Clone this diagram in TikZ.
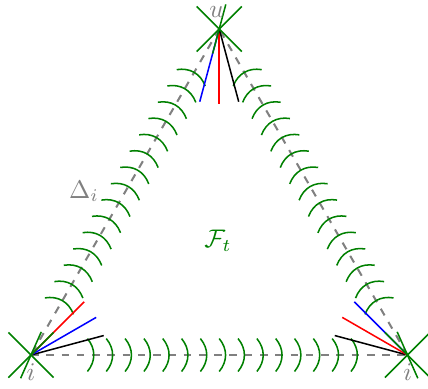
\documentclass[tikz,border=0pt]{standalone}
\usepackage{amsmath}
\usetikzlibrary{calc}
\definecolor{vert}{rgb}{0,0.5,0}
\tikzset{
  hatch/.pic={\draw[vert,semithick] (0,-0.175) .. controls (0.09,-0.065) and (0.09,0.065) .. (0,0.175);},
  cote/.style={gray,thick,dashed},
  croix/.style={vert,semithick},
  rayon/.style={semithick}
}
\begin{document}
\begin{tikzpicture}[x=1.3cm,y=1.3cm]
\useasboundingbox (-0.329,-0.351) rectangle (4.218,3.772);
% sommets du triangle
\coordinate (bl) at (0,0);
\coordinate (br) at (4,0);
\coordinate (tp) at (2,3.464);
% cotes
\draw[cote] (bl) -- (br);
\draw[cote] (br) -- (tp);
\draw[cote] (tp) -- (bl);
% hachures
\foreach \t in {0.6,0.8,...,3.41} {
  \pic at ($(bl)+(\t,0)$) {hatch};
  \pic[rotate=60] at ($(bl)+(60:\t)$) {hatch};
  \pic[rotate=120] at ($(br)+(120:\t)$) {hatch};
}
% rayons aux sommets
\draw[rayon,black] (bl) -- ++(15:0.8);
\draw[rayon,blue] (bl) -- ++(30:0.8);
\draw[rayon,red] (bl) -- ++(45:0.8);
\draw[rayon,black] (br) -- ++(165:0.8);
\draw[rayon,red] (br) -- ++(150:0.8);
\draw[rayon,blue] (br) -- ++(135:0.8);
\draw[rayon,blue] (tp) -- ++(255:0.8);
\draw[rayon,red] (tp) -- ++(270:0.8);
\draw[rayon,black] (tp) -- ++(285:0.8);
% croix
\foreach \s/\a in {bl/66,br/114,tp/75} {
  \draw[croix] ($(\s)+(-0.24,-0.24)$) -- ($(\s)+(0.24,0.24)$);
  \draw[croix] ($(\s)+(-0.24,0.24)$) -- ($(\s)+(0.24,-0.24)$);
  \draw[croix] ($(\s)+(\a:0.27)$) -- ($(\s)+(\a+180:0.27)$);
}
% etiquettes
\node[gray] (lu) at (1.973,3.644) {$u$};
\node[gray] (li) at (0,-0.18) {$i$};
\node[gray] (lj) at (4.002,-0.18) {$i$};
\node[gray] (ld) at (0.563,1.74) {$\Delta_i$};
\node[vert] (lf) at (1.987,1.217) {$\mathcal{F}_t$};
\end{tikzpicture}
\end{document}
